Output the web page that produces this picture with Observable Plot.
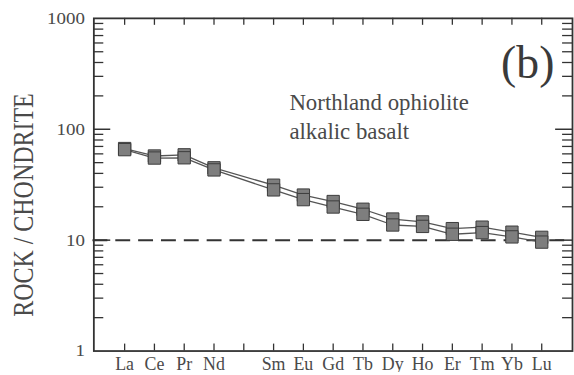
<!DOCTYPE html>
<html>
<head>
<meta charset="utf-8">
<script src="https://cdn.jsdelivr.net/npm/d3@7"></script>
<script src="https://cdn.jsdelivr.net/npm/@observablehq/plot@0.6"></script>
<style>
  #chart svg text { font-family: "Liberation Serif", serif !important; }
</style>
</head>
<body style="margin:0;overflow:hidden;background:#fff">
<div id="chart"></div>
<script>
// Full lanthanide sequence used as the x axis (Pm has a tick but no label / no data)
const ree = ["La","Ce","Pr","Nd","Pm","Sm","Eu","Gd","Tb","Dy","Ho","Er","Tm","Yb","Lu"];
// Measured elements
const elements = ["La","Ce","Pr","Nd","Sm","Eu","Gd","Tb","Dy","Ho","Er","Tm","Yb","Lu"];
// Chondrite-normalised values (two samples)
const sampleA = [67, 57.4, 58.8, 44.9, 31.3, 25.5, 22.3, 19.0, 15.5, 14.6, 12.7, 13.1, 11.8, 10.6];
const sampleB = [65.5, 55, 55.3, 43, 28.4, 23.2, 19.9, 17.1, 13.7, 13.3, 11.3, 11.7, 10.7, 9.6];
const yTickLabels = [1, 10, 100, 1000];
const yMinorTicks = [2,3,4,5,6,7,8,9,20,30,40,50,60,70,80,90,200,300,400,500,600,700,800,900];
const yMajorInner = [10, 100];
const referenceLevel = 10;

const rowsA = elements.map((e, i) => ({el: e, x: ree.indexOf(e), v: sampleA[i]}));
const rowsB = elements.map((e, i) => ({el: e, x: ree.indexOf(e), v: sampleB[i]}));
const labeled = elements.map(e => ree.indexOf(e));

const ink = "#333";
const serif = "Liberation Serif";
const chart = Plot.plot({
  width: 578,
  height: 375,
  marginLeft: 94,
  marginRight: 2,
  marginTop: 18,
  marginBottom: 22,
  style: {fontFamily: serif},
  x: {domain: [-1.033, 15.033]},
  y: {type: "log", domain: [1, 1000]},
  marks: [
    // minor y ticks (inward) left and right
    Plot.tickY(yMinorTicks, {y: d => d, insetRight: 472, stroke: ink, strokeWidth: 1.3}),
    Plot.tickY(yMinorTicks, {y: d => d, insetLeft: 472, stroke: ink, strokeWidth: 1.3}),
    Plot.tickY(yMajorInner, {y: d => d, insetRight: 465, stroke: ink, strokeWidth: 1.5}),
    Plot.tickY(yMajorInner, {y: d => d, insetLeft: 465, stroke: ink, strokeWidth: 1.5}),
    // x ticks top and bottom (inward)
    Plot.tickX(d3.range(ree.length), {x: d => d, insetBottom: 328, stroke: ink, strokeWidth: 1.3}),
    Plot.tickX(d3.range(ree.length), {x: d => d, insetTop: 328, stroke: ink, strokeWidth: 1.3}),
    Plot.frame({stroke: ink, strokeWidth: 1.8}),
    // dashed reference line
    Plot.ruleY([referenceLevel], {x1: -1.33, x2: 15.03, stroke: ink, strokeWidth: 2, strokeDasharray: "15,8", strokeDashoffset: -8}),
    // sample lines
    Plot.line(rowsA, {x: "x", y: "v", stroke: "#555", strokeWidth: 1.3}),
    Plot.line(rowsB, {x: "x", y: "v", stroke: "#555", strokeWidth: 1.3}),
    Plot.dot(rowsA, {x: "x", y: "v", symbol: "square", r: 7, fill: "#7e7e7e", stroke: "#3c3c3c", strokeWidth: 1}),
    Plot.dot(rowsB, {x: "x", y: "v", symbol: "square", r: 7, fill: "#7e7e7e", stroke: "#3c3c3c", strokeWidth: 1}),
    // axes labels
    Plot.axisY({ticks: yTickLabels, tickSize: 0, tickPadding: 9, tickFormat: d => String(d), fontSize: 17, label: null, fontFamily: serif, fill: "#4a4a4a"}),
    Plot.axisX({ticks: labeled, tickSize: 0, tickPadding: 6, tickFormat: i => ree[i], fontSize: 18, label: null, fontFamily: serif, fill: "#4a4a4a"}),
    Plot.text(["ROCK / CHONDRITE"], {frameAnchor: "left", textAnchor: "middle", rotate: -90, dx: -71, dy: 20.5, fontSize: 30, fill: "#4a4a4a", fontFamily: serif}),
    Plot.text(["Northland ophiolite\nalkalic basalt"], {x: 5.53, y: 227, textAnchor: "start", lineAnchor: "top", fontSize: 23, lineHeight: 1.25, fill: "#4a4a4a", fontFamily: serif}),
    Plot.text(["(b)"], {x: 13.53, y: 396, fontSize: 46, fill: "#3a3a3a", fontFamily: serif})
  ]
});
document.getElementById("chart").append(chart);

// stretch some texts to match the scanned figure's proportions
const svg = d3.select(chart);
svg.selectAll("text").each(function() {
  if (this.textContent.includes("CHONDRITE")) {
    this.setAttribute("textLength", 225);
    this.setAttribute("lengthAdjust", "spacingAndGlyphs");
  }
});
svg.selectAll("g[aria-label='y-axis tick label'] text").each(function() {
  const w = this.getComputedTextLength();
  this.setAttribute("textLength", w * 1.12);
  this.setAttribute("lengthAdjust", "spacingAndGlyphs");
});
</script>
</body>
</html>
